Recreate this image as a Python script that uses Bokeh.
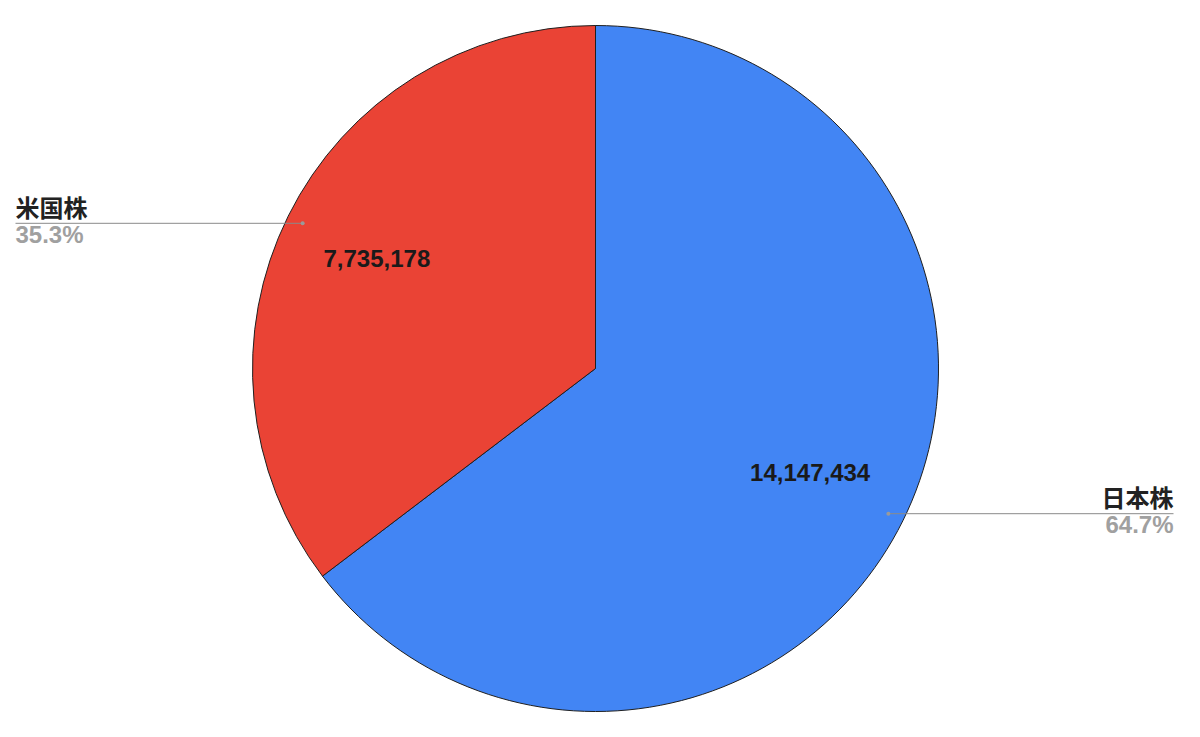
import math
from bokeh.plotting import figure
from bokeh.models import Range1d, ColumnDataSource
from bokeh.embed import file_html
from bokeh.resources import INLINE
from bokeh.core.properties import value

# ---- data ----
categories = ["日本株", "米国株"]
values = [14147434, 7735178]
colors = ["#4285F4", "#EA4335"]

# ---- layout (page pixel coordinates, y measured from bottom) ----
W, H = 1184, 721
CX, CY, R = 595, 369, 343
LEFT_X, RIGHT_X = 15, 1173
TDY = 3  # small upward text nudge

total = float(sum(values))
fracs = [v / total for v in values]
starts, ends, mids = [], [], []
a = math.pi / 2
for f in fracs:
    e = a - 2 * math.pi * f
    starts.append(a)
    ends.append(e)
    mids.append((a + e) / 2)
    a = e

src = ColumnDataSource(dict(cat=categories, val=values, color=colors,
                            start=starts, end=ends))

p = figure(width=W, height=H, output_backend="svg", toolbar_location=None,
           x_range=Range1d(0, W), y_range=Range1d(737 - H, 737),
           min_border=0, outline_line_color=None)
p.axis.visible = False
p.grid.visible = False
p.background_fill_color = "white"
p.border_fill_color = "white"

p.wedge(x=CX, y=CY, radius=R, start_angle="start", end_angle="end",
        direction="clock", fill_color="color", line_color="#1f1f1f",
        line_width=1, source=src)

# value labels inside slices
vx = [CX + 0.705 * R * math.cos(m) - 2 for m in mids]
vy = [CY + 0.705 * R * math.sin(m) + TDY for m in mids]
p.text(x=vx, y=vy, text=["{:,}".format(v) for v in values],
       text_align="center", text_baseline="middle",
       text_font=value("Liberation Sans"), text_font_style="bold",
       text_font_size="24px", text_color="#1a1a1a")

# leader lines and outside labels
for cat, f, m in zip(categories, fracs, mids):
    dx = CX + 0.953 * R * math.cos(m)
    dy = CY + 0.953 * R * math.sin(m)
    right = math.cos(m) > 0
    ex = RIGHT_X if right else LEFT_X
    p.line([dx, ex], [dy, dy], line_color="#8a8a8a", line_width=1)
    p.scatter([dx], [dy], size=4, fill_color="#9a9a9a", line_color=None)
    align = "right" if right else "left"
    p.text(x=[ex], y=[dy + 14 + TDY], text=[cat], text_align=align,
           text_baseline="middle", text_font=value("Noto Sans CJK JP"),
           text_font_style="bold", text_font_size="24px", text_color="#222222")
    p.text(x=[ex], y=[dy - 14 + TDY], text=["{:.1f}%".format(f * 100)],
           text_align=align, text_baseline="middle",
           text_font=value("Liberation Sans"), text_font_style="bold",
           text_font_size="24px", text_color="#a0a0a0")

open("out.html", "w").write(file_html(p, INLINE))
